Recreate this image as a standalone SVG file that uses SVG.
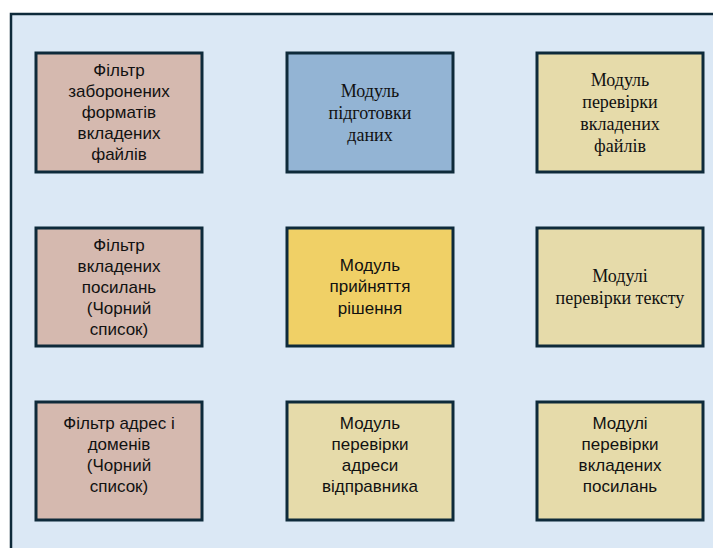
<svg xmlns="http://www.w3.org/2000/svg" width="713" height="548" viewBox="0 0 713 548">
<style>
.box{stroke:#0e2a3a;stroke-width:3}
.pink{fill:#d5b9af}
.blue{fill:#93b4d4}
.gold{fill:#f0d066}
.beige{fill:#e6dbaa}
.s{font-family:"Liberation Sans",Arial,sans-serif;font-size:17px;fill:#111;text-anchor:middle}
.t{font-family:"Liberation Serif","Times New Roman",serif;font-size:18px;fill:#111;text-anchor:middle}
</style>
<rect x="0" y="0" width="713" height="548" fill="#ffffff"/>
<rect id="frame" x="11" y="14" width="730" height="560" fill="#dbe8f5" stroke="#0e2a3a" stroke-width="2.5"/>
<g id="connectors"></g>
<g id="n1">
<rect class="box pink" x="36" y="53" width="166" height="119"/>
<text class="s" x="119" y="76">Фільтр</text>
<text class="s" x="119" y="97">заборонених</text>
<text class="s" x="119" y="118">форматів</text>
<text class="s" x="119" y="139">вкладених</text>
<text class="s" x="119" y="160">файлів</text>
</g>
<g id="n2">
<rect class="box blue" x="287" y="53" width="166" height="119"/>
<text class="t" x="370" y="97">Модуль</text>
<text class="t" x="370" y="119">підготовки</text>
<text class="t" x="370" y="141">даних</text>
</g>
<g id="n3">
<rect class="box beige" x="537" y="53" width="166" height="119"/>
<text class="t" x="620" y="86">Модуль</text>
<text class="t" x="620" y="108">перевірки</text>
<text class="t" x="620" y="130">вкладених</text>
<text class="t" x="620" y="152">файлів</text>
</g>
<g id="n4">
<rect class="box pink" x="36" y="228" width="166" height="118"/>
<text class="s" x="119" y="251">Фільтр</text>
<text class="s" x="119" y="272">вкладених</text>
<text class="s" x="119" y="293">посилань</text>
<text class="s" x="119" y="314">(Чорний</text>
<text class="s" x="119" y="335">список)</text>
</g>
<g id="n5">
<rect class="box gold" x="287" y="228" width="166" height="118"/>
<text class="s" x="370" y="271">Модуль</text>
<text class="s" x="370" y="292">прийняття</text>
<text class="s" x="370" y="314">рішення</text>
</g>
<g id="n6">
<rect class="box beige" x="537" y="228" width="166" height="118"/>
<text class="t" x="620" y="282">Модулі</text>
<text class="t" x="620" y="304">перевірки тексту</text>
</g>
<g id="n7">
<rect class="box pink" x="36" y="402" width="166" height="118"/>
<text class="s" x="119" y="429">Фільтр адрес і</text>
<text class="s" x="119" y="450">доменів</text>
<text class="s" x="119" y="471">(Чорний</text>
<text class="s" x="119" y="492">список)</text>
</g>
<g id="n8">
<rect class="box beige" x="287" y="402" width="166" height="118"/>
<text class="s" x="370" y="429">Модуль</text>
<text class="s" x="370" y="450">перевірки</text>
<text class="s" x="370" y="471">адреси</text>
<text class="s" x="370" y="492">відправника</text>
</g>
<g id="n9">
<rect class="box beige" x="537" y="402" width="166" height="118"/>
<text class="s" x="620" y="429">Модулі</text>
<text class="s" x="620" y="450">перевірки</text>
<text class="s" x="620" y="471">вкладених</text>
<text class="s" x="620" y="492">посилань</text>
</g>
</svg>
